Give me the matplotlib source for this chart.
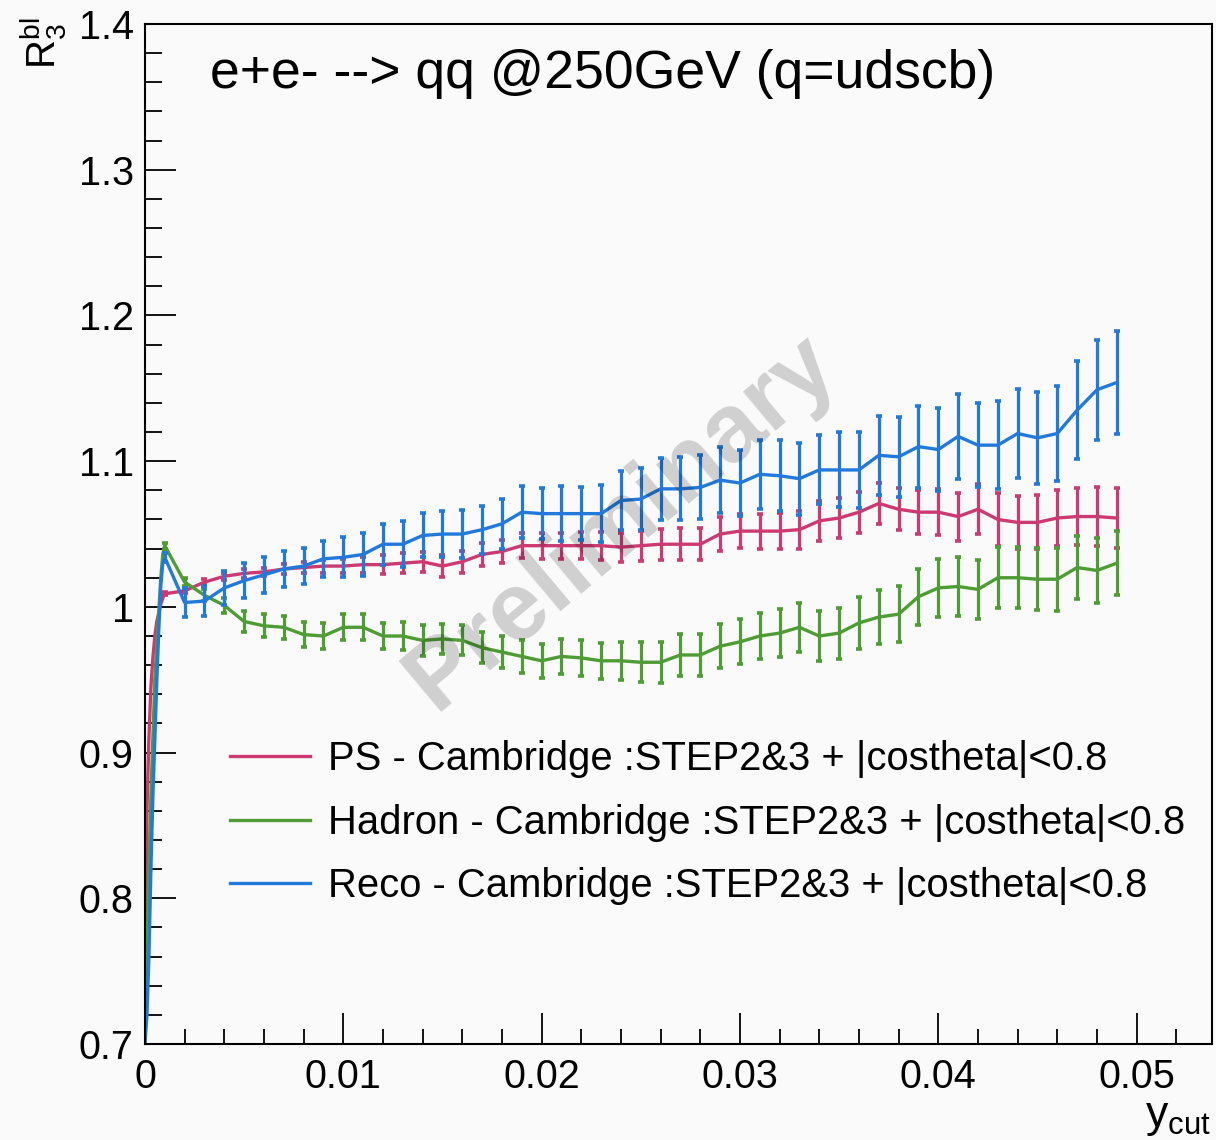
import numpy as np
import matplotlib.pyplot as plt
from matplotlib.ticker import MultipleLocator

plt.rcParams['font.family'] = ['Liberation Sans', 'DejaVu Sans']
plt.rcParams['mathtext.fontset'] = 'custom'
plt.rcParams['mathtext.rm'] = 'Liberation Sans'
plt.rcParams['mathtext.default'] = 'regular'

# steep rise near ycut = 0 (line only, no error bars)
x_rise = [0.0, 0.0001, 0.0002, 0.0003, 0.0004, 0.0005, 0.0006, 0.0007, 0.0008, 0.0009]
ps_rise = [0.73, 0.86, 0.91, 0.945, 0.965, 0.98, 0.99, 0.996, 1.002, 1.006]
had_rise = [0.70, 0.76, 0.82, 0.87, 0.91, 0.95, 0.975, 0.997, 1.02, 1.036]
reco_rise = [0.70, 0.72, 0.76, 0.82, 0.87, 0.91, 0.95, 0.985, 1.015, 1.03]

# points with error bars
ycut = [i / 1000 for i in range(1, 50)]

ps = [1.009, 1.011, 1.017, 1.021, 1.023, 1.024, 1.026, 1.027, 1.028, 1.028,
      1.029, 1.029, 1.030, 1.031, 1.028, 1.031, 1.036, 1.038, 1.042, 1.042,
      1.042, 1.042, 1.042, 1.041, 1.042, 1.043, 1.043, 1.043, 1.050, 1.052,
      1.052, 1.052, 1.053, 1.059, 1.061, 1.065, 1.071, 1.067, 1.065, 1.065,
      1.062, 1.067, 1.060, 1.058, 1.058, 1.061, 1.062, 1.062, 1.061]
ps_err = [0.001, 0.0015, 0.002, 0.0025, 0.003, 0.003, 0.0035, 0.004, 0.0045, 0.005,
          0.0055, 0.0065, 0.007, 0.007, 0.0075, 0.0075, 0.008, 0.008, 0.0085, 0.0088,
          0.009, 0.0092, 0.0095, 0.010, 0.0103, 0.0106, 0.011, 0.011, 0.0114, 0.0115,
          0.012, 0.0125, 0.013, 0.0135, 0.014, 0.014, 0.0142, 0.0145, 0.0152, 0.016,
          0.0165, 0.017, 0.018, 0.0182, 0.0185, 0.019, 0.0198, 0.0203, 0.0208]

had = [1.042, 1.017, 1.008, 1.001, 0.990, 0.987, 0.986, 0.981, 0.980, 0.986,
       0.986, 0.980, 0.980, 0.977, 0.978, 0.977, 0.972, 0.969, 0.966, 0.963,
       0.966, 0.965, 0.963, 0.963, 0.962, 0.962, 0.967, 0.967, 0.973, 0.976,
       0.980, 0.982, 0.986, 0.980, 0.982, 0.989, 0.993, 0.995, 1.007, 1.013,
       1.014, 1.012, 1.020, 1.020, 1.019, 1.019, 1.027, 1.025, 1.030]
had_err = [0.002, 0.003, 0.004, 0.005, 0.0075, 0.008, 0.008, 0.0086, 0.0088, 0.009,
           0.009, 0.0092, 0.0095, 0.0105, 0.010, 0.0103, 0.0106, 0.011, 0.0112, 0.0116,
           0.012, 0.0122, 0.0125, 0.013, 0.0137, 0.014, 0.0142, 0.0145, 0.015, 0.0155,
           0.016, 0.0165, 0.017, 0.0172, 0.0175, 0.018, 0.0185, 0.019, 0.0192, 0.0196,
           0.020, 0.020, 0.0208, 0.021, 0.0212, 0.0217, 0.0218, 0.022, 0.022]

reco = [1.034, 1.003, 1.004, 1.013, 1.018, 1.022, 1.026, 1.028, 1.033, 1.034,
        1.036, 1.043, 1.043, 1.049, 1.050, 1.050, 1.053, 1.057, 1.065, 1.064,
        1.064, 1.064, 1.064, 1.073, 1.074, 1.081, 1.081, 1.082, 1.087, 1.085,
        1.091, 1.090, 1.088, 1.094, 1.094, 1.094, 1.104, 1.103, 1.110, 1.108,
        1.117, 1.111, 1.111, 1.119, 1.116, 1.119, 1.135, 1.149, 1.154]
reco_err = [0.003, 0.0097, 0.010, 0.0116, 0.012, 0.0125, 0.0125, 0.0126, 0.0125, 0.0137,
            0.0145, 0.014, 0.0158, 0.0151, 0.016, 0.0162, 0.0164, 0.0171, 0.0178, 0.0174,
            0.0189, 0.018, 0.0196, 0.0202, 0.0215, 0.0213, 0.0217, 0.022, 0.0228, 0.0226,
            0.0235, 0.0243, 0.0247, 0.0237, 0.0257, 0.0258, 0.0269, 0.0275, 0.0281, 0.0285,
            0.0292, 0.0288, 0.0301, 0.0308, 0.0316, 0.0325, 0.0336, 0.0345, 0.0354]

labels = ["PS - Cambridge :STEP2&3 + |costheta|<0.8",
          "Hadron - Cambridge :STEP2&3 + |costheta|<0.8",
          "Reco - Cambridge :STEP2&3 + |costheta|<0.8"]
colors = ["#cc3a72", "#4f9b35", "#2279d9"]

yticks = [0.7, 0.8, 0.9, 1.0, 1.1, 1.2, 1.3, 1.4]
ytick_labels = ["0.7", "0.8", "0.9", "1", "1.1", "1.2", "1.3", "1.4"]
xticks = [0, 0.01, 0.02, 0.03, 0.04, 0.05]
xtick_labels = ["0", "0.01", "0.02", "0.03", "0.04", "0.05"]

bg = "#fafafa"
fig = plt.figure(figsize=(12.16, 11.4), dpi=100, facecolor=bg)
ax = fig.add_axes([0.1192, 0.0842, 0.8775, 0.8947], facecolor=bg)

series = [(ps_rise, ps, ps_err), (had_rise, had, had_err), (reco_rise, reco, reco_err)]
for (rise, vals, errs), col, lab in zip(series, colors, labels):
    ax.plot(x_rise + ycut, rise + vals, color=col, lw=2.4, label=lab)
    ax.errorbar(ycut, vals, yerr=errs, fmt="none", ecolor=col, elinewidth=2.3,
                capsize=2.3, capthick=2.6)

ax.set_xlim(0, 0.0538)
ax.set_ylim(0.7, 1.4)
ax.set_xticks(xticks)
ax.set_xticklabels(xtick_labels)
ax.set_yticks(yticks)
ax.set_yticklabels(ytick_labels)
ax.xaxis.set_minor_locator(MultipleLocator(0.002))
ax.yaxis.set_minor_locator(MultipleLocator(0.02))
ax.tick_params(which="both", direction="in", labelsize=28.5, width=1.3, colors="black")
ax.tick_params(axis="x", which="major", length=22, pad=10)
ax.tick_params(axis="x", which="minor", length=11)
ax.tick_params(axis="y", which="major", length=22, pad=8)
ax.tick_params(axis="y", which="minor", length=12)
for s in ax.spines.values():
    s.set_linewidth(1.5)

ax.text(0.061, 0.951, "e+e- --> qq @250GeV (q=udscb)", transform=ax.transAxes,
        fontsize=38.5, ha="left", va="center")

ax.legend(loc="upper left", bbox_to_anchor=(0.080, 0.298), frameon=False, fontsize=28.8,
          handlelength=2.0, handletextpad=0.45, labelspacing=0.64, borderpad=0.0,
          borderaxespad=0.0)

ax.text(0.447, 0.512, "Preliminary", transform=ax.transAxes, fontsize=70,
        fontweight="bold", color="black", alpha=0.17, rotation=40,
        ha="center", va="center", rotation_mode="anchor", zorder=10)

fig.text(0.036, 0.985, r"$R_{3}^{bl}$", rotation=90, fontsize=29, ha="center", va="top")
fig.text(0.996, 0.002, r"$y_{cut}$", fontsize=32, ha="right", va="bottom")

fig.savefig("out.png", dpi=100, facecolor=bg)
